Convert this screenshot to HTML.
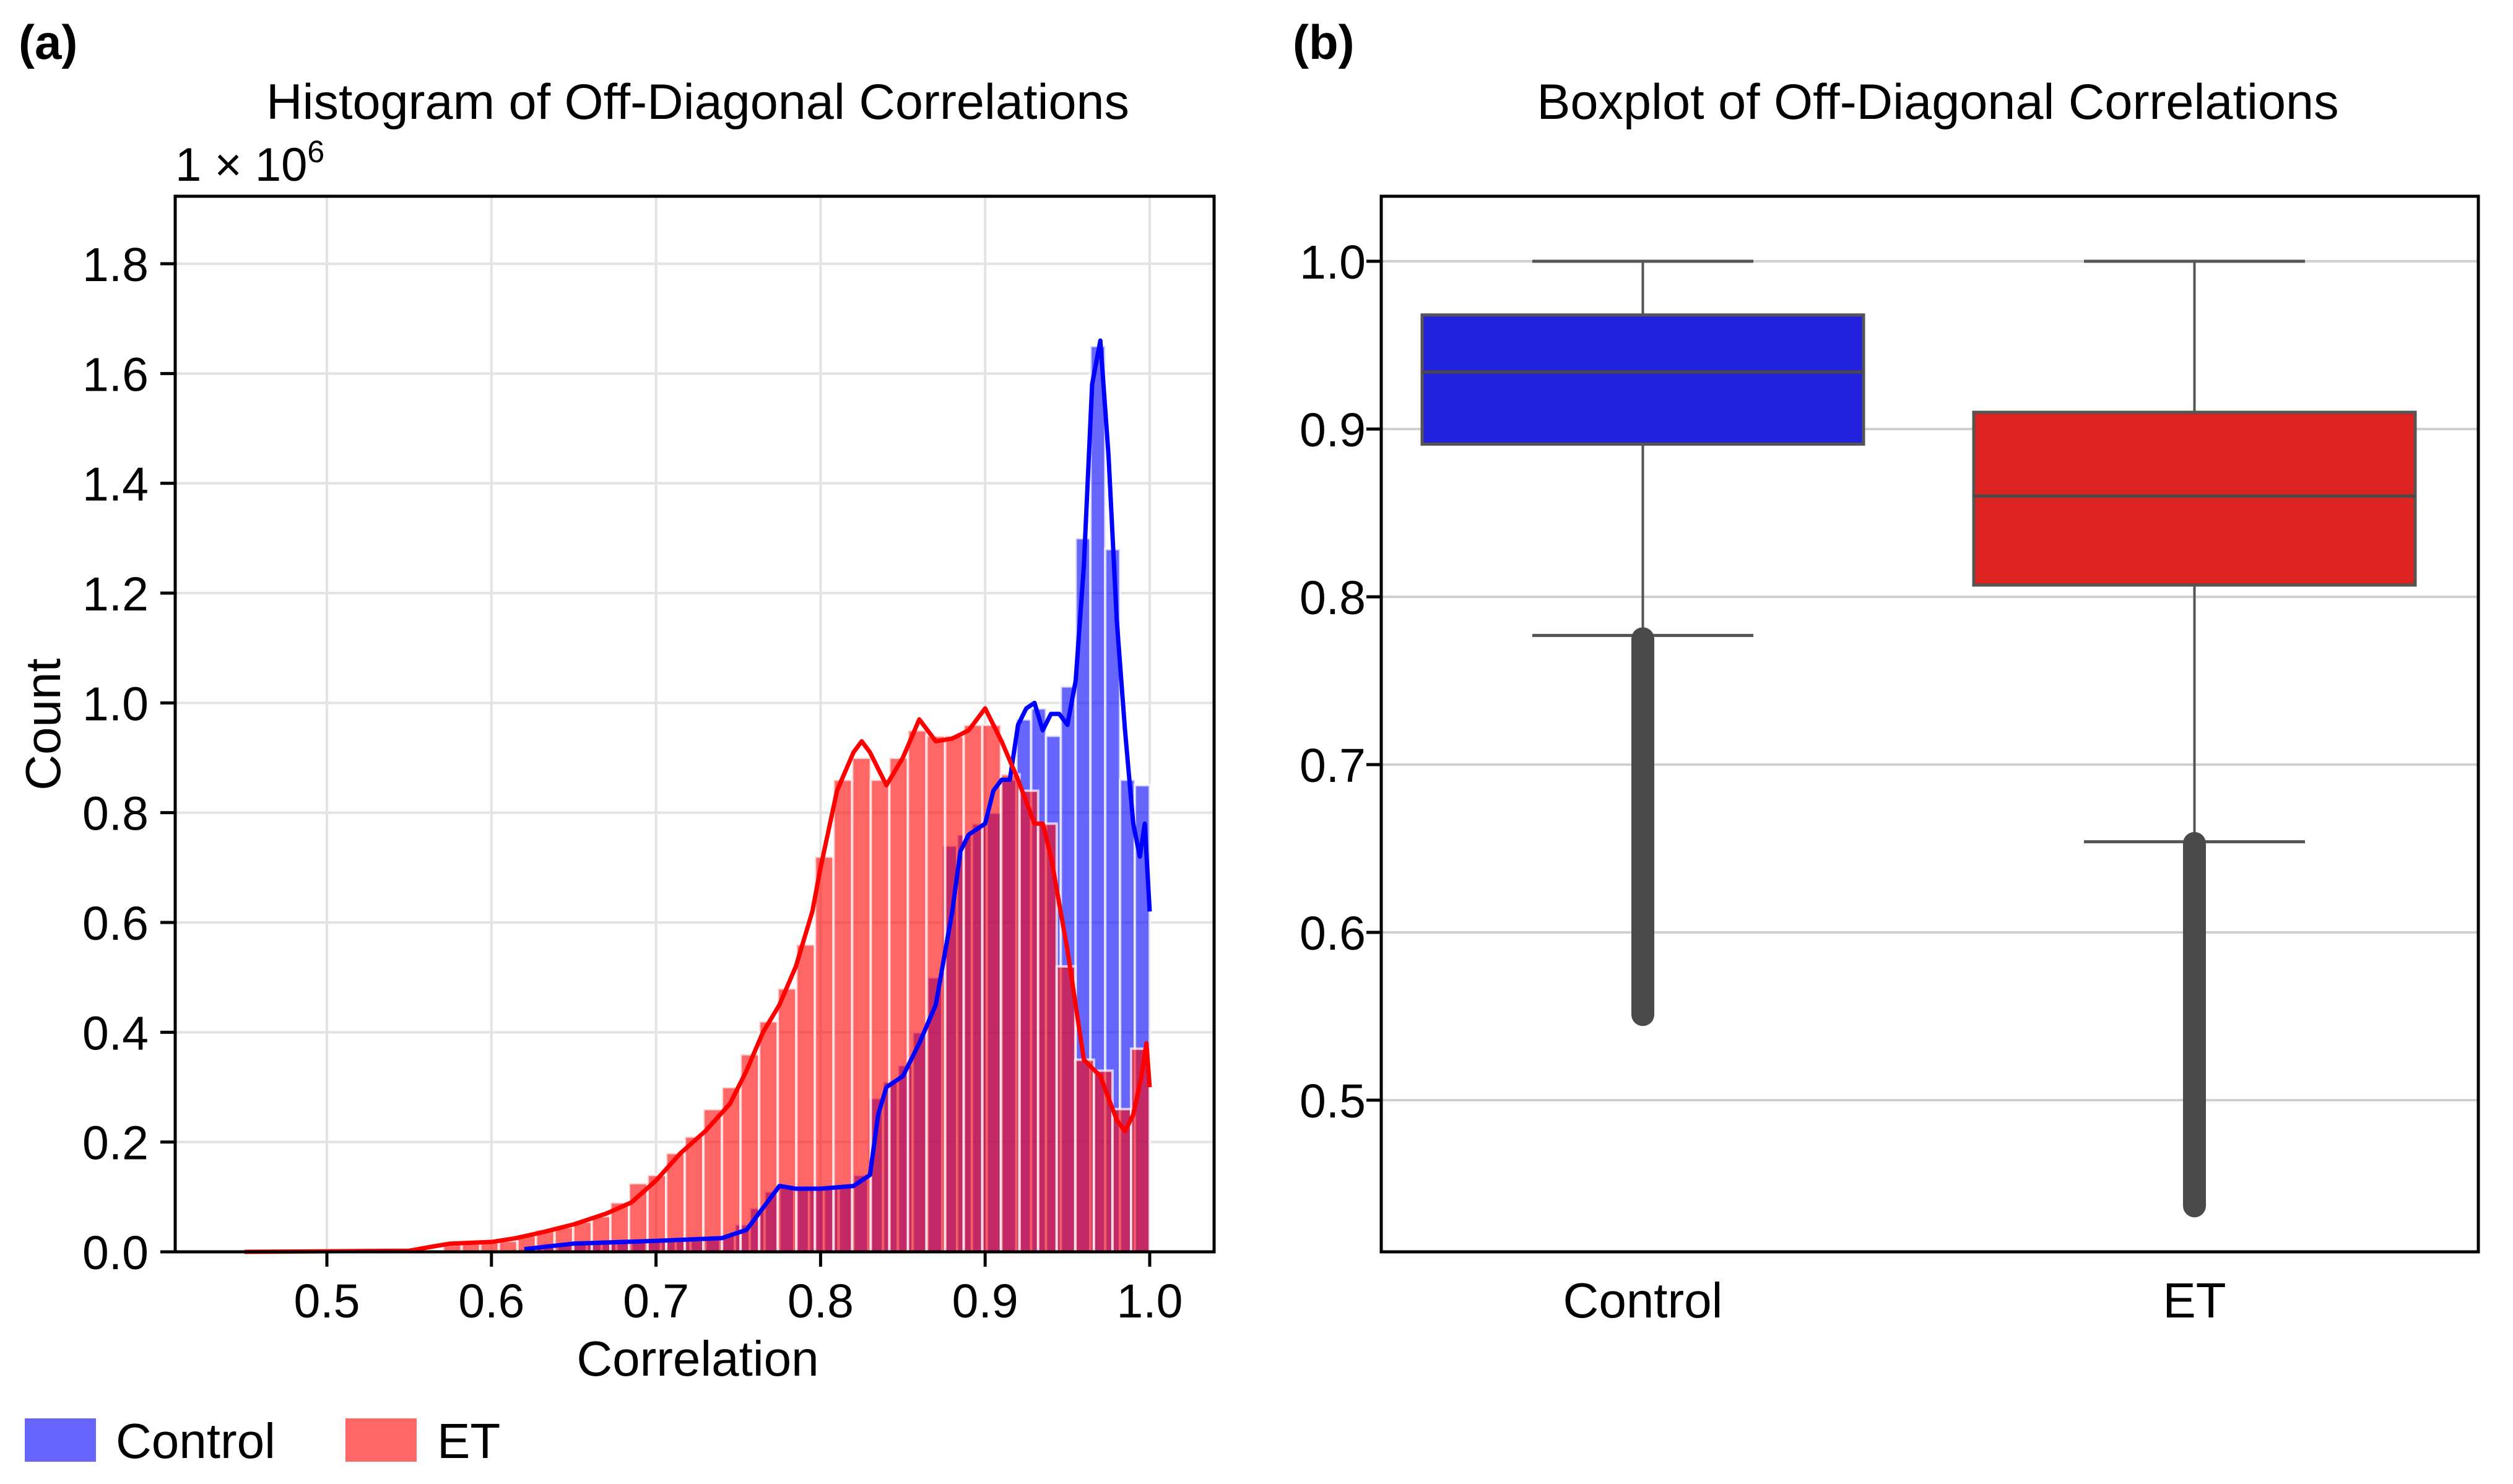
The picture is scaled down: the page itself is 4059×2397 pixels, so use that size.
<!DOCTYPE html>
<html><head><meta charset="utf-8">
<style>
html,body{margin:0;padding:0;background:#fff;}
svg{display:block;font-family:"Liberation Sans",sans-serif;}
</style></head>
<body>
<svg id="fig" width="4059" height="2397" viewBox="0 0 4059 2397" xmlns="http://www.w3.org/2000/svg">
<g id="histPanel"></g>
<g id="boxPanel"></g>
</svg>
<script>
// ---------- Histogram data ----------
const controlBinStart = 0.55;
const controlBinWidth = 0.009;
const controlCounts = [0,0,0,0,0,0,0,0.005,0.01,0.015,0.015,0.015,0.015,0.02,0.02,0.02,0.02,0.02,0.025,0.025,0.025,0.03,0.05,0.08,0.11,0.12,0.115,0.115,0.12,0.12,0.14,0.28,0.31,0.34,0.4,0.5,0.74,0.76,0.78,0.80,0.86,0.97,0.99,0.94,1.03,1.30,1.65,1.28,0.86,0.85];
const etBinStart = 0.435;
const etBinWidth = 0.0113;
const etCounts = [0,0,0,0,0,0,0.002,0.002,0.002,0.002,0.002,0.003,0.015,0.015,0.018,0.02,0.03,0.04,0.045,0.055,0.065,0.09,0.125,0.14,0.18,0.21,0.26,0.3,0.36,0.42,0.48,0.56,0.72,0.86,0.90,0.86,0.90,0.95,0.94,0.94,0.96,0.96,0.87,0.84,0.78,0.52,0.35,0.33,0.26,0.37];
const controlKdeX = [0.62,0.65,0.7,0.74,0.755,0.765,0.775,0.785,0.8,0.82,0.83,0.835,0.84,0.85,0.86,0.87,0.88,0.885,0.89,0.9,0.905,0.91,0.915,0.92,0.925,0.93,0.935,0.94,0.945,0.95,0.955,0.96,0.965,0.97,0.975,0.98,0.985,0.99,0.994,0.997,1.0];
const controlKdeY = [0.005,0.015,0.02,0.025,0.04,0.08,0.12,0.115,0.115,0.12,0.14,0.25,0.3,0.32,0.38,0.45,0.62,0.73,0.76,0.78,0.84,0.86,0.86,0.96,0.99,1.0,0.95,0.98,0.98,0.96,1.04,1.25,1.58,1.66,1.45,1.15,0.95,0.78,0.72,0.78,0.62];
const etKdeX = [0.45,0.55,0.565,0.575,0.6,0.615,0.63,0.65,0.67,0.685,0.7,0.715,0.73,0.745,0.755,0.765,0.775,0.785,0.795,0.8,0.81,0.82,0.825,0.83,0.84,0.85,0.86,0.87,0.88,0.89,0.9,0.91,0.92,0.925,0.93,0.935,0.94,0.95,0.96,0.97,0.98,0.985,0.99,0.995,0.998,1.0];
const etKdeY = [0.0,0.002,0.01,0.015,0.018,0.025,0.035,0.05,0.07,0.09,0.13,0.18,0.22,0.27,0.33,0.40,0.45,0.52,0.62,0.70,0.84,0.91,0.93,0.91,0.85,0.9,0.97,0.93,0.935,0.95,0.99,0.93,0.86,0.82,0.78,0.78,0.72,0.55,0.35,0.32,0.24,0.22,0.25,0.32,0.38,0.30];
const histXTicks = [0.5,0.6,0.7,0.8,0.9,1.0];
const histXTickLabels = ["0.5","0.6","0.7","0.8","0.9","1.0"];
const histYTicks = [0,0.2,0.4,0.6,0.8,1.0,1.2,1.4,1.6,1.8];
const histYTickLabels = ["0.0","0.2","0.4","0.6","0.8","1.0","1.2","1.4","1.6","1.8"];

// ---------- Boxplot data ----------
const boxCategories = ["Control","ET"];
const boxQ1 = [0.891,0.807];
const boxMedian = [0.934,0.860];
const boxQ3 = [0.968,0.910];
const boxWhiskerLow = [0.777,0.654];
const boxWhiskerHigh = [1.0,1.0];
const boxOutlierMax = [0.775,0.653];
const boxOutlierMin = [0.551,0.437];
const boxColors = ["#2121de","#dd2222"];
const boxYTicks = [0.5,0.6,0.7,0.8,0.9,1.0];
const boxYTickLabels = ["0.5","0.6","0.7","0.8","0.9","1.0"];

const NS = "http://www.w3.org/2000/svg";
function mk(parent, tag, attrs, text){
  const e = document.createElementNS(NS, tag);
  for (const k in attrs) e.setAttribute(k, attrs[k]);
  if (text !== undefined) e.textContent = text;
  parent.appendChild(e);
  return e;
}

// ===== Histogram =====
const H = document.getElementById('histPanel');
const hL = 283, hR = 1961, hT = 317, hB = 2022;
const hx = v => 528 + (v - 0.5) * 2658;
const hy = v => hB - v * (hB - 426) / 1.8;

let t = mk(H,'text',{x:30,y:95,'font-size':78,'font-weight':'bold'},'(a)');


t = mk(H,'text',{x:1127,y:192,'font-size':81,'text-anchor':'middle'},'Histogram of Off-Diagonal Correlations');


t = mk(H,'text',{x:283,y:292,'font-size':76},'1 × 10');


mk(t,'tspan',{'font-size':50,dy:-30},'6');

// grid
histXTicks.forEach((v)=>{
  const g = mk(H,'line',{x1:hx(v),x2:hx(v),y1:hT,y2:hB,stroke:'#e3e3e3','stroke-width':4});
  
  
});
histYTicks.forEach((v)=>{
  const g = mk(H,'line',{x1:hL,x2:hR,y1:hy(v),y2:hy(v),stroke:'#e3e3e3','stroke-width':4});
  
  
});

// bars
controlCounts.forEach((c,i)=>{
  if (c<=0) return;
  const x0 = controlBinStart + i*controlBinWidth;
  const r = mk(H,'rect',{x:hx(x0),y:hy(c),width:hx(x0+controlBinWidth)-hx(x0),height:hy(0)-hy(c),fill:'#0000ff','fill-opacity':0.6,stroke:'#fff','stroke-width':4,'stroke-opacity':0.7});
  
  
});
etCounts.forEach((c,i)=>{
  if (c<=0) return;
  const x0 = etBinStart + i*etBinWidth;
  const r = mk(H,'rect',{x:hx(x0),y:hy(c),width:hx(x0+etBinWidth)-hx(x0),height:hy(0)-hy(c),fill:'#ff0000','fill-opacity':0.6,stroke:'#fff','stroke-width':4,'stroke-opacity':0.7});
  
  
});
// kde
let p = mk(H,'polyline',{points:controlKdeX.map((x,i)=>hx(x)+','+hy(controlKdeY[i])).join(' '),fill:'none',stroke:'#0000ff','stroke-width':7,'stroke-linejoin':'round'});


p = mk(H,'polyline',{points:etKdeX.map((x,i)=>hx(x)+','+hy(etKdeY[i])).join(' '),fill:'none',stroke:'#ff0000','stroke-width':7,'stroke-linejoin':'round'});



// spines
let s = mk(H,'rect',{x:hL,y:hT,width:hR-hL,height:hB-hT,fill:'none',stroke:'#000','stroke-width':5});


// ticks
histXTicks.forEach((v,i)=>{
  mk(H,'line',{x1:hx(v),x2:hx(v),y1:hB,y2:hB+24,stroke:'#000','stroke-width':5});
  const l = mk(H,'text',{x:hx(v),y:2128,'font-size':77,'text-anchor':'middle'},histXTickLabels[i]);
  
  
});
histYTicks.forEach((v,i)=>{
  mk(H,'line',{x1:hL-24,x2:hL,y1:hy(v),y2:hy(v),stroke:'#000','stroke-width':5});
  const l = mk(H,'text',{x:240,y:hy(v)+28,'font-size':77,'text-anchor':'end'},histYTickLabels[i]);
  
  
});
t = mk(H,'text',{x:1127,y:2222,'font-size':80,'text-anchor':'middle'},'Correlation');


t = mk(H,'text',{x:0,y:0,'font-size':80,'text-anchor':'middle',transform:'translate(97,1170) rotate(-90)'},'Count');



// legend
let lg = mk(H,'g',{});


let le = mk(lg,'rect',{x:40,y:2291,width:115,height:70,fill:'#6666ff'});


le = mk(lg,'text',{x:187,y:2355,'font-size':80},'Control');


le = mk(lg,'rect',{x:558,y:2291,width:115,height:70,fill:'#ff6666'});


le = mk(lg,'text',{x:706,y:2355,'font-size':80},'ET');



// ===== Boxplot =====
const B = document.getElementById('boxPanel');
const bL = 2231, bR = 4003, bT = 317, bB = 2022;
const by = v => 422 + (1 - v) * 2710;
const bx = i => bL + (i + 0.5) * 891 - 23;
const boxW = 713, capW = 357;

t = mk(B,'text',{x:2088,y:95,'font-size':78,'font-weight':'bold'},'(b)');


t = mk(B,'text',{x:3130,y:192,'font-size':81,'text-anchor':'middle'},'Boxplot of Off-Diagonal Correlations');



boxYTicks.forEach((v,i)=>{
  const g = mk(B,'line',{x1:bL,x2:bR,y1:by(v),y2:by(v),stroke:'#d0d0d0','stroke-width':4});
  
  
  mk(B,'line',{x1:bL-24,x2:bL,y1:by(v),y2:by(v),stroke:'#000','stroke-width':5});
  const l = mk(B,'text',{x:2206,y:by(v)+28,'font-size':77,'text-anchor':'end'},boxYTickLabels[i]);
  
  
});

boxCategories.forEach((c,i)=>{
  const cx = bx(i);
  const g = mk(B,'g',{});
  
  
  mk(g,'line',{x1:cx,x2:cx,y1:by(boxWhiskerHigh[i]),y2:by(boxQ3[i]),stroke:'#555','stroke-width':4});
  mk(g,'line',{x1:cx,x2:cx,y1:by(boxQ1[i]),y2:by(boxWhiskerLow[i]),stroke:'#555','stroke-width':4});
  mk(g,'line',{x1:cx-capW/2,x2:cx+capW/2,y1:by(boxWhiskerHigh[i]),y2:by(boxWhiskerHigh[i]),stroke:'#555','stroke-width':5});
  mk(g,'line',{x1:cx-capW/2,x2:cx+capW/2,y1:by(boxWhiskerLow[i]),y2:by(boxWhiskerLow[i]),stroke:'#555','stroke-width':5});
  mk(g,'rect',{x:cx-boxW/2,y:by(boxQ3[i]),width:boxW,height:by(boxQ1[i])-by(boxQ3[i]),fill:boxColors[i],stroke:'#555','stroke-width':5});
  mk(g,'line',{x1:cx-boxW/2,x2:cx+boxW/2,y1:by(boxMedian[i]),y2:by(boxMedian[i]),stroke:'#4a4a4a','stroke-width':5});
  const o = mk(B,'line',{x1:cx,x2:cx,y1:by(boxOutlierMax[i]),y2:by(boxOutlierMin[i]),stroke:'#4a4a4a','stroke-width':37,'stroke-linecap':'round'});
  
  
  const l = mk(B,'text',{x:cx,y:2128,'font-size':80,'text-anchor':'middle'},c);
  
  
});
s = mk(B,'rect',{x:bL,y:bT,width:bR-bL,height:bB-bT,fill:'none',stroke:'#000','stroke-width':5});


</script>
</body></html>
